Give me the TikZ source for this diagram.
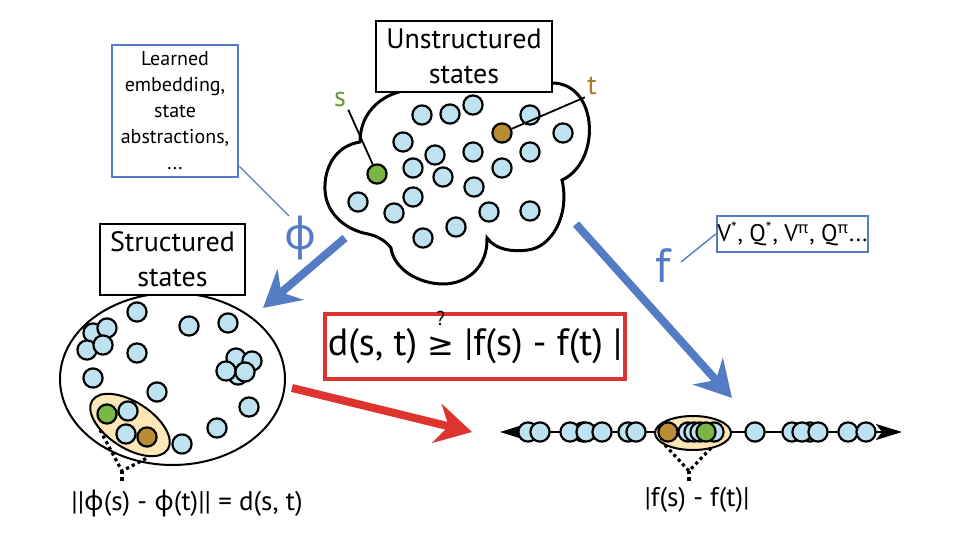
\documentclass[tikz,border=0pt]{standalone}
\usepackage{fontspec}
\setmainfont{PT Sans}
\newfontfamily\grk{Noto Sans}
\newfontfamily\dvs{DejaVu Sans}
\usetikzlibrary{arrows.meta,shapes.geometric}
\definecolor{cfill}{RGB}{190,226,240}
\definecolor{cgreen}{RGB}{122,182,68}
\definecolor{cbrown}{RGB}{188,140,52}
\definecolor{cyellow}{RGB}{252,232,182}
\definecolor{cblue}{RGB}{84,124,196}
\definecolor{cred}{RGB}{222,52,48}
\definecolor{slabc}{RGB}{110,150,50}
\definecolor{tlabc}{RGB}{165,125,40}
\tikzset{
  bdot/.style={circle, draw=black, line width=1.1pt, fill=cfill, minimum size=9.6pt, inner sep=0pt},
  gdot/.style={bdot, fill=cgreen},
  tdot/.style={bdot, fill=cbrown},
  blackbox/.style={draw=black, line width=1pt, fill=white, align=center, inner sep=0pt, font=\fontsize{14}{17.5}\selectfont},
  bluebox/.style={draw=cblue, line width=1.3pt, fill=white, align=center, inner sep=0pt},
  bigarrow/.style={line width=4pt, -{Stealth[length=18pt,width=20pt,inset=6pt]}},
  thinblue/.style={draw=cblue, line width=0.7pt},
  bracket/.style={line width=1.6pt, dash pattern=on 1.6pt off 1.6pt},
  cloudline/.style={line width=1.5pt, fill=white},
}
\begin{document}
\begin{tikzpicture}[x=0.5pt,y=-0.5pt]
\useasboundingbox (0,0) rectangle (960,540);

% ---------- cloud of unstructured states ----------
\draw[cloudline] (410,90) .. controls (385,92) and (360,110) .. (360,142)
  .. controls (335,146) and (324,168) .. (325,190)
  .. controls (326,214) and (346,230) .. (368,234)
  .. controls (378,236) and (387,242) .. (391,248)
  .. controls (394,270) and (420,284) .. (443,284)
  .. controls (468,284) and (488,266) .. (487,238)
  .. controls (496,250) and (512,252) .. (528,250)
  .. controls (552,247) and (570,215) .. (562,180)
  .. controls (580,172) and (592,148) .. (589,122)
  .. controls (586,98) and (572,83) .. (552,83)
  -- (420,86) -- cycle;

\node[blackbox, minimum width=88pt, minimum height=35.5pt] (ubox) at (464,56.5) {Unstructured\\states};

\foreach \x/\y [count=\i] in {422/115,450/114,473/105,530/115,563/133,403/142,435/155,473/152,530/152,413/168,443/177,502/168,474/187,413/197,358/202,394/213,489/212,530/211,456/227,423/238}
  \node[bdot] (u\i) at (\x,\y) {};
\node[gdot] (s) at (377,174) {};
\node[tdot] (t) at (502,133) {};

\node[text=slabc, font=\fontsize{14}{14}\selectfont, inner sep=1pt] (slab) at (340,100) {s};
\node[text=tlabc, font=\fontsize{14}{14}\selectfont, inner sep=1pt] (tlab) at (592,86) {t};
\draw[line width=0.9pt] (slab.south east) -- (s);
\draw[line width=0.9pt] (tlab.south west) -- (t);

% ---------- structured states ----------
\draw[line width=1pt, fill=white] (172.5,379) ellipse [x radius=112.5, y radius=86];
\node[blackbox, minimum width=72.5pt, minimum height=35.5pt] (sbox) at (172.5,259.5) {Structured\\states};

\foreach \x/\y [count=\i] in {137/312,93/333,107/328,87/350,103/345,189/326,228/323,137/353,93/378,157/392,249/407,217/428,182/444,238/375,236/358,252/361,226/371,245/372}
  \node[bdot] (v\i) at (\x,\y) {};

\draw[line width=1pt, fill=cyellow, rotate around={-33:(130,425)}] (130,425) ellipse [x radius=45, y radius=23];
\node[gdot] (s2) at (107,414) {};
\node[bdot] (w1) at (128,411) {};
\node[bdot] (w2) at (126,434) {};
\node[tdot] (t2) at (147,437) {};

\coordinate (b1a) at (100,430);
\coordinate (b1b) at (147,458);
\coordinate (b1m) at (122,471);
\coordinate (b1e) at (122,483);
\draw[bracket] (b1a) -- (b1m) -- (b1b);
\draw[bracket] (b1m) -- (b1e);

\node[font=\fontsize{13.5}{13.5}\selectfont] (dlab) at (187,503) {||{\grk φ}(s) - {\grk φ}(t)|| = d(s, t)};

% ---------- learned embedding box ----------
\node[bluebox, minimum width=63pt, minimum height=66pt, font=\fontsize{10}{13}\selectfont] (lbox) at (175,111)
  {Learned\\embedding,\\state\\abstractions,\\...};
\node[text=cblue, font=\grk\fontsize{22}{22}\selectfont, inner sep=0pt] (phi) at (300,238) {φ};
\draw[thinblue] ([yshift=6pt]lbox.south east) -- ([xshift=-5.5pt,yshift=11pt]phi.center);

% ---------- f box ----------
\node[bluebox, minimum width=75.5pt, minimum height=18pt, font=\fontsize{12}{12}\selectfont] (vbox) at (792.5,234)
  {V\textsuperscript{*}, Q\textsuperscript{*}, V\textsuperscript{\grk π}, Q\textsuperscript{\grk π}...};
\node[text=cblue, font=\fontsize{24}{24}\selectfont, inner sep=1pt] (flab) at (663,266) {f};
\draw[thinblue] ([xshift=4pt,yshift=2pt]flab.east) -- (vbox.west);

% ---------- big arrows ----------
\coordinate (phiS) at (345,238);
\coordinate (phiE) at (263,308);
\draw[bigarrow, cblue] (phiS) -- (phiE);
\coordinate (fS) at (576,224);
\coordinate (fE) at (732,398);
\draw[bigarrow, cblue] (fS) -- (fE);
\coordinate (rS) at (292,388);
\coordinate (rE) at (472,432);
\draw[bigarrow, cred] (rS) -- (rE);

% ---------- red formula box ----------
\node[draw=cred, line width=2pt, fill=white, minimum width=150pt, minimum height=32.5pt, inner sep=0pt,
      font=\fontsize{19}{19}\selectfont] (rbox) at (475,346.5)
  {d(s, t) \smash{\shortstack{{\fontsize{10}{10}\selectfont ?}\\[2.5pt]{\dvs\fontsize{16}{16}\selectfont ≥}}} |f(s) - f(t) |};

% ---------- number line ----------
\coordinate (nlL) at (500,432);
\coordinate (nlR) at (902,432);
\draw[line width=1pt, {Stealth[length=13pt,width=8pt,inset=3pt]}-{Stealth[length=13pt,width=8pt,inset=3pt]}] (nlL) -- (nlR);
\foreach \x [count=\i] in {528,540,583,570,586,602,628,636}
  \node[bdot] (n\i) at (\x,432) {};
\draw[line width=1pt, fill=cyellow] (693,433) ellipse [x radius=38, y radius=17];
\node[tdot] (t3) at (668,432) {};
\foreach \x [count=\i] in {714,688,694,700}
  \node[bdot] (m\i) at (\x,432) {};
\node[gdot] (s3) at (706,432) {};
\foreach \x [count=\i] in {755,792,810,802,818,848,866}
  \node[bdot] (k\i) at (\x,432) {};

\coordinate (b2a) at (665,445);
\coordinate (b2b) at (711,448);
\coordinate (b2m) at (689,471);
\coordinate (b2e) at (689,481);
\draw[bracket] (b2a) -- (b2m) -- (b2b);
\draw[bracket] (b2m) -- (b2e);

\node[font=\fontsize{13.5}{13.5}\selectfont] (flab2) at (697,500) {|f(s) - f(t)|};
\end{tikzpicture}
\end{document}
